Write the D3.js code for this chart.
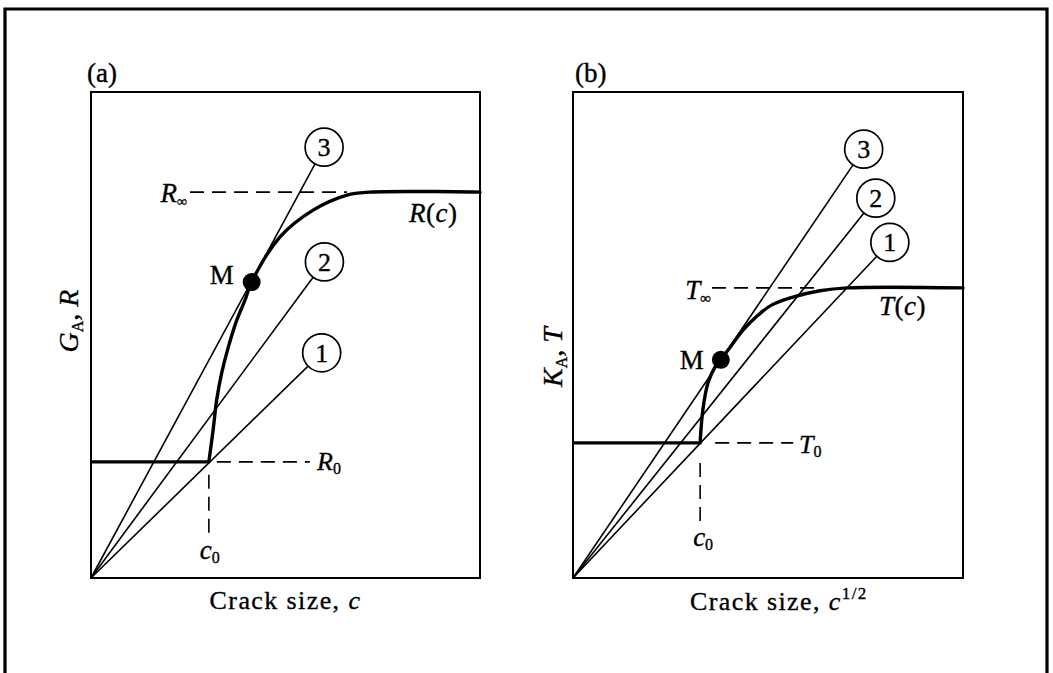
<!DOCTYPE html>
<html>
<head>
<meta charset="utf-8">
<script src="https://cdn.jsdelivr.net/npm/d3@7"></script>
<style>
  body { margin: 0; background: #fff; }
  text { font-family: "Liberation Serif", "Times New Roman", serif; fill: #000; stroke: #000; stroke-width: 0.35; }
</style>
</head>
<body>
<svg id="fig" width="1053" height="673"></svg>
<script>
// ---- Panel (a): energy-release rate G_A and resistance curve R(c) vs crack size c
const rCurveC = [3.03, 3.14, 3.23, 3.36, 3.53, 3.75, 3.96, 4.13, 4.86, 5.71, 6.58, 7.17, 10];
const rCurveR = [2.39, 3.05, 3.66, 4.22, 4.75, 5.31, 5.72, 6.09, 7.02, 7.57, 7.88, 7.94, 7.94];
const rC0 = 3.03, rR0 = 2.39, rRinf = 7.94;
const rMc = 4.13, rMg = 6.09;
const rLineIds = ["1", "2", "3"];
const rLineEndC = [5.58, 5.71, 5.76];
const rLineEndG = [4.36, 6.19, 8.52];

// ---- Panel (b): stress-intensity factor K_A and toughness curve T(c) vs c^1/2
const tCurveC = [3.26, 3.33, 3.46, 3.64, 3.79, 4.03, 4.36, 4.72, 5.10, 5.64, 6.33, 7.03, 10];
const tCurveT = [2.78, 3.46, 4.01, 4.34, 4.49, 4.75, 5.10, 5.39, 5.62, 5.78, 5.91, 5.97, 5.97];
const tC0 = 3.26, tT0 = 2.78, tTinf = 5.97;
const tMc = 3.79, tMk = 4.49;
const tLineIds = ["1", "2", "3"];
const tLineEndC = [7.79, 7.46, 7.18];
const tLineEndK = [6.62, 7.51, 8.50];

const axisDomain = [0, 10];

const svg = d3.select("#fig");
const W = 1053, H = 673;

// outer frame (open at the bottom)
svg.append("path")
  .attr("d", `M5,${H} L5,9 L1047,9 L1047,${H}`)
  .attr("fill", "none").attr("stroke", "#000").attr("stroke-width", 3.2);

const DASH = "14,8";
const CIRCLE_R = 19;

function addSubText(g, x, y, parts, opts = {}) {
  const t = g.append("text").attr("x", x).attr("y", y)
    .attr("font-size", opts.size || 26)
    .attr("text-anchor", opts.anchor || "start");
  if (opts.spacing) t.attr("letter-spacing", opts.spacing);
  if (opts.transform) t.attr("transform", opts.transform);
  parts.forEach(p => {
    const s = t.append("tspan").text(p.t);
    if (p.italic) s.attr("font-style", "italic");
    if (p.sub) s.attr("font-size", p.size || 15).attr("dy", p.sub);
    if (p.dx) s.attr("dx", p.dx);
  });
  return t;
}

function drawPanel(cfg) {
  const g = svg.append("g");
  const x = d3.scaleLinear().domain(axisDomain).range([cfg.left, cfg.right]);
  const y = d3.scaleLinear().domain(axisDomain).range([cfg.bottom, cfg.top]);

  // box
  g.append("rect")
    .attr("x", cfg.left).attr("y", cfg.top)
    .attr("width", cfg.right - cfg.left).attr("height", cfg.bottom - cfg.top)
    .attr("fill", "none").attr("stroke", "#000").attr("stroke-width", 2);

  // loading lines from the origin, each ending at a numbered circle
  cfg.lineIds.forEach((id, i) => {
    const x0 = x(0), y0 = y(0);
    const x1 = x(cfg.lineEndX[i]), y1 = y(cfg.lineEndY[i]);
    g.append("line")
      .attr("x1", x0).attr("y1", y0).attr("x2", x1).attr("y2", y1)
      .attr("stroke", "#000").attr("stroke-width", 1.6);
    const len = Math.hypot(x1 - x0, y1 - y0);
    const cx = x1 + (x1 - x0) / len * CIRCLE_R;
    const cy = y1 + (y1 - y0) / len * CIRCLE_R;
    g.append("circle").attr("cx", cx).attr("cy", cy).attr("r", CIRCLE_R)
      .attr("fill", "#fff").attr("stroke", "#000").attr("stroke-width", 1.7);
    g.append("text").attr("x", cx).attr("y", cy + 9)
      .attr("text-anchor", "middle").attr("font-size", 26).text(id);
  });

  // initial plateau at the starting resistance
  g.append("line")
    .attr("x1", x(0)).attr("y1", y(cfg.y0)).attr("x2", x(cfg.c0)).attr("y2", y(cfg.y0))
    .attr("stroke", "#000").attr("stroke-width", 3.2);

  // rising resistance curve
  const curve = d3.line()
    .x((d, i) => x(cfg.curveX[i]))
    .y((d, i) => y(cfg.curveY[i]))
    .curve(d3.curveCatmullRom.alpha(0.5));
  g.append("path").datum(cfg.curveX)
    .attr("d", curve)
    .attr("fill", "none").attr("stroke", "#000").attr("stroke-width", 3.4)
    .attr("stroke-linecap", "round");

  // dashed guides
  const dashed = (x1, y1, x2, y2) => g.append("line")
    .attr("x1", x1).attr("y1", y1).attr("x2", x2).attr("y2", y2)
    .attr("stroke", "#000").attr("stroke-width", 1.6).attr("stroke-dasharray", DASH);
  const kneeX = x(cfg.curveX[cfg.curveX.length - 3]);
  dashed(cfg.infDashFrom, y(cfg.yInf), kneeX, y(cfg.yInf));
  dashed(x(cfg.c0) + cfg.zeroDash[0], y(cfg.y0), x(cfg.c0) + cfg.zeroDash[1], y(cfg.y0));
  dashed(x(cfg.c0), y(cfg.y0) + cfg.cDash[0], x(cfg.c0), y(cfg.y0) + cfg.cDash[1]);

  // instability point M
  g.append("circle").attr("cx", x(cfg.mX)).attr("cy", y(cfg.mY)).attr("r", 9).attr("fill", "#000");

  return { g, x, y };
}

// ---------- panel (a)
const A = drawPanel({
  left: 91, right: 480, top: 92, bottom: 578,
  curveX: rCurveC, curveY: rCurveR, c0: rC0, y0: rR0, yInf: rRinf,
  mX: rMc, mY: rMg,
  lineIds: rLineIds, lineEndX: rLineEndC, lineEndY: rLineEndG,
  infDashFrom: 190, zeroDash: [8, 101], cDash: [13, 72]
});
addSubText(A.g, 87, 82, [{ t: "(a)" }], { size: 27 });
addSubText(A.g, 187, A.y(rRinf) + 10, [{ t: "R", italic: true }, { t: "∞", sub: 4, size: 14 }], { anchor: "end", size: 27 });
addSubText(A.g, 317, A.y(rR0) + 8, [{ t: "R", italic: true }, { t: "0", sub: 4, size: 16 }], { size: 26 });
addSubText(A.g, A.x(rC0) - 9, A.y(rR0) + 97, [{ t: "c", italic: true }, { t: "0", sub: 4, size: 16 }], { size: 27 });
addSubText(A.g, 409, A.y(rRinf) + 30, [{ t: "R", italic: true }, { t: "(" }, { t: "c", italic: true }, { t: ")" }], { size: 27, spacing: 0.5 });
addSubText(A.g, A.x(rMc) - 18, A.y(rMg) + 2, [{ t: "M" }], { anchor: "end", size: 27 });
addSubText(A.g, 285.5, 609, [{ t: "Crack size, " }, { t: "c", italic: true }], { anchor: "middle", size: 26, spacing: 1.4 });
addSubText(A.g, 0, 0, [{ t: "G", italic: true }, { t: "A", sub: 5, size: 16 }, { t: ", ", sub: -5, size: 28 }, { t: "R", italic: true }],
  { anchor: "middle", size: 28, transform: "translate(78,321) rotate(-90)" });

// ---------- panel (b)
const B = drawPanel({
  left: 573, right: 963, top: 92, bottom: 578,
  curveX: tCurveC, curveY: tCurveT, c0: tC0, y0: tT0, yInf: tTinf,
  mX: tMc, mY: tMk,
  lineIds: tLineIds, lineEndX: tLineEndC, lineEndY: tLineEndK,
  infDashFrom: 712, zeroDash: [15, 93], cDash: [20, 79]
});
addSubText(B.g, 575, 82, [{ t: "(b)" }], { size: 27 });
addSubText(B.g, 711, B.y(tTinf) + 11, [{ t: "T", italic: true }, { t: "∞", sub: 4, size: 15 }], { anchor: "end", size: 27 });
addSubText(B.g, 799, B.y(tT0) + 10, [{ t: "T", italic: true }, { t: "0", sub: 4, size: 16 }], { size: 26 });
addSubText(B.g, B.x(tC0) - 7, B.y(tT0) + 103, [{ t: "c", italic: true }, { t: "0", sub: 4, size: 16 }], { size: 27 });
addSubText(B.g, 879, B.y(tTinf) + 27, [{ t: "T", italic: true }, { t: "(" }, { t: "c", italic: true }, { t: ")" }], { size: 27, spacing: 0.5 });
addSubText(B.g, B.x(tMc) - 17, B.y(tMk) + 9, [{ t: "M" }], { anchor: "end", size: 27 });
addSubText(B.g, 690, 610, [{ t: "Crack size, " }, { t: "c", italic: true }, { t: "1/2", sub: -11, size: 17 }], { size: 26, spacing: 1.4 });
addSubText(B.g, 0, 0, [{ t: "K", italic: true }, { t: "A", sub: 5, size: 16 }, { t: ", ", sub: -5, size: 28 }, { t: "T", italic: true }],
  { anchor: "middle", size: 28, transform: "translate(562,357) rotate(-90)" });
</script>
</body>
</html>
